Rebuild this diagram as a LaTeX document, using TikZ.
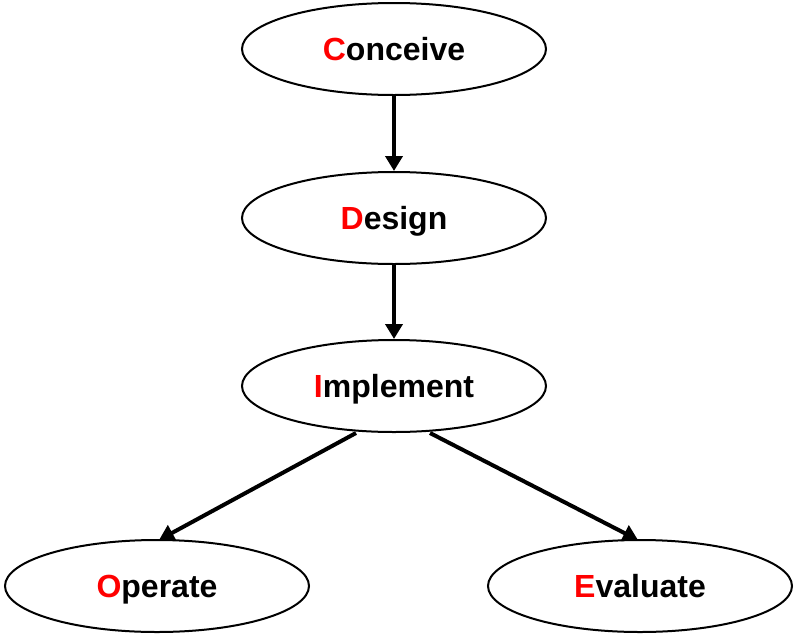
\documentclass[tikz,border=0pt]{standalone}
\usepackage{fontspec}
\setmainfont{Liberation Sans}
\usetikzlibrary{shapes.geometric,arrows.meta}
\begin{document}
\begin{tikzpicture}[x=1pt,y=-1pt,
  stage/.style={ellipse,draw,line width=2pt,minimum width=304pt,minimum height=92pt,inner sep=0pt,text height=23pt,text depth=0pt,font=\fontsize{32}{36}\selectfont\bfseries},
  flow/.style={line width=4pt,-{Triangle[length=15pt,width=17pt]}}]
\useasboundingbox (0,0) rectangle (795,635);
\node[stage] (c) at (394,49) {\textcolor{red}{C}onceive};
\node[stage] (d) at (394,218) {\textcolor{red}{D}esign};
\node[stage] (i) at (394,386) {\textcolor{red}{I}mplement};
\node[stage] (o) at (157,586) {\textcolor{red}{O}perate};
\node[stage] (e) at (640,586) {\textcolor{red}{E}valuate};
\draw[flow] (c) -- (d);
\draw[flow] (d) -- (i);
\coordinate (i1) at (356,433);
\coordinate (i2) at (430,433);
\coordinate (o1) at (159,540);
\coordinate (e1) at (638,540);
\draw[flow] (i1) -- (o1);
\draw[flow] (i2) -- (e1);
\end{tikzpicture}
\end{document}
